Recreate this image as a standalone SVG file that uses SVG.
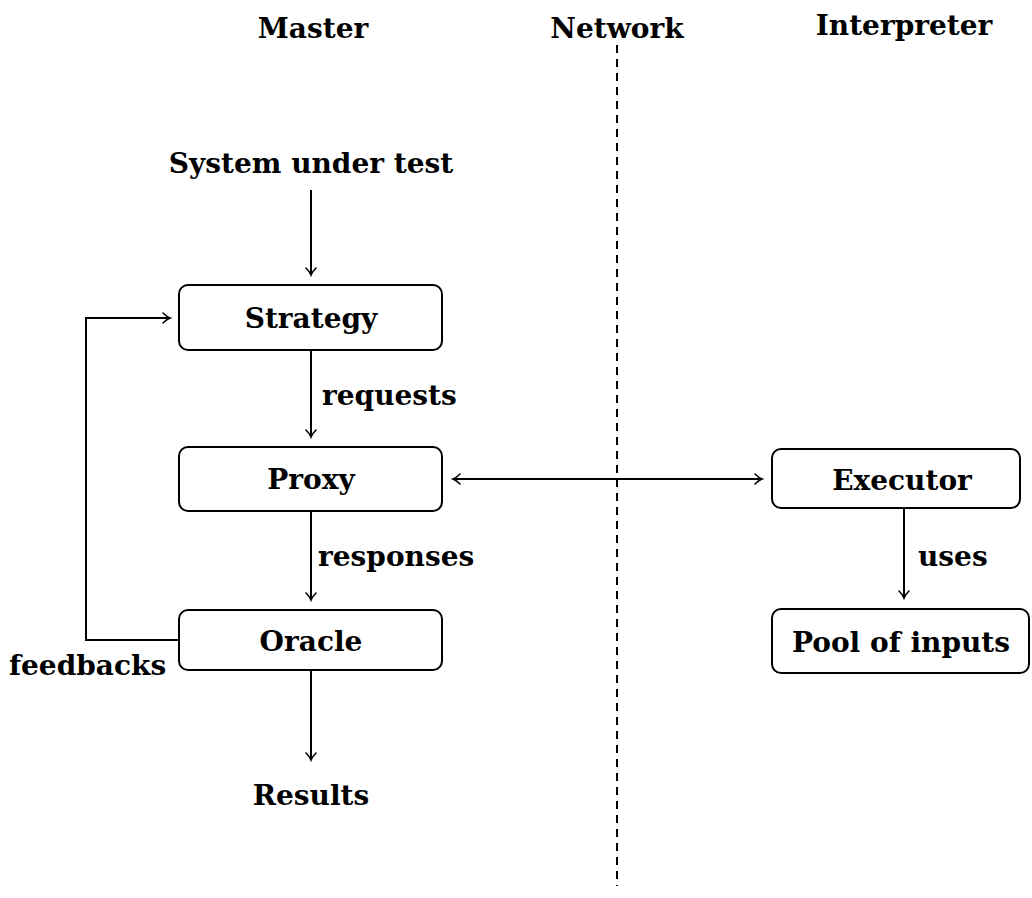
<svg xmlns="http://www.w3.org/2000/svg" width="1032" height="898" viewBox="0 0 1032 898">
<style>
text{font-family:"DejaVu Serif","Liberation Serif",serif;font-weight:bold;font-size:28px;fill:#000}
.c{text-anchor:middle}
.box{fill:#fff;stroke:#000;stroke-width:2}
.ln{fill:none;stroke:#000;stroke-width:2}
</style>
<defs>
<marker id="ah" viewBox="-10 -6 12 12" refX="0" refY="0" markerWidth="12" markerHeight="12" markerUnits="userSpaceOnUse" orient="auto-start-reverse">
<path d="M-7,-5 Q-3,-1 0,0 Q-3,1 -7,5" fill="none" stroke="#000" stroke-width="1.6" stroke-linecap="round"/>
</marker>
</defs>
<g id="headers">
<text class="c" x="313" y="38">Master</text>
<text class="c" x="617" y="38">Network</text>
<text class="c" x="904" y="35">Interpreter</text>
</g>
<g id="connectors">
<line x1="617" y1="45" x2="617" y2="886" stroke="#000" stroke-width="2" stroke-dasharray="8,6"/>
<line class="ln" x1="311" y1="190" x2="311" y2="275" marker-end="url(#ah)"/>
<line class="ln" x1="311" y1="350" x2="311" y2="437" marker-end="url(#ah)"/>
<line class="ln" x1="311" y1="511" x2="311" y2="600" marker-end="url(#ah)"/>
<line class="ln" x1="311" y1="670" x2="311" y2="760" marker-end="url(#ah)"/>
<polyline class="ln" points="179,640 86,640 86,318 170,318" marker-end="url(#ah)"/>
<line class="ln" x1="453" y1="479" x2="762" y2="479" marker-start="url(#ah)" marker-end="url(#ah)"/>
<line class="ln" x1="904" y1="508" x2="904" y2="598" marker-end="url(#ah)"/>
<text x="322" y="405">requests</text>
<text x="318" y="566">responses</text>
<text x="9" y="675">feedbacks</text>
<text x="918" y="566">uses</text>
</g>
<g id="sut"><text class="c" x="311" y="173">System under test</text></g>
<g id="strategy"><rect class="box" x="179" y="285" width="263" height="65" rx="9"/><text class="c" x="311" y="328">Strategy</text></g>
<g id="proxy"><rect class="box" x="179" y="447" width="263" height="64" rx="9"/><text class="c" x="311" y="489">Proxy</text></g>
<g id="oracle"><rect class="box" x="179" y="610" width="263" height="60" rx="9"/><text class="c" x="311" y="651">Oracle</text></g>
<g id="results"><text class="c" x="311" y="805">Results</text></g>
<g id="executor"><rect class="box" x="772" y="449" width="248" height="59" rx="9"/><text class="c" x="902" y="490">Executor</text></g>
<g id="pool"><rect class="box" x="772" y="609" width="257" height="64" rx="9"/><text class="c" x="901" y="652">Pool of inputs</text></g>
</svg>
